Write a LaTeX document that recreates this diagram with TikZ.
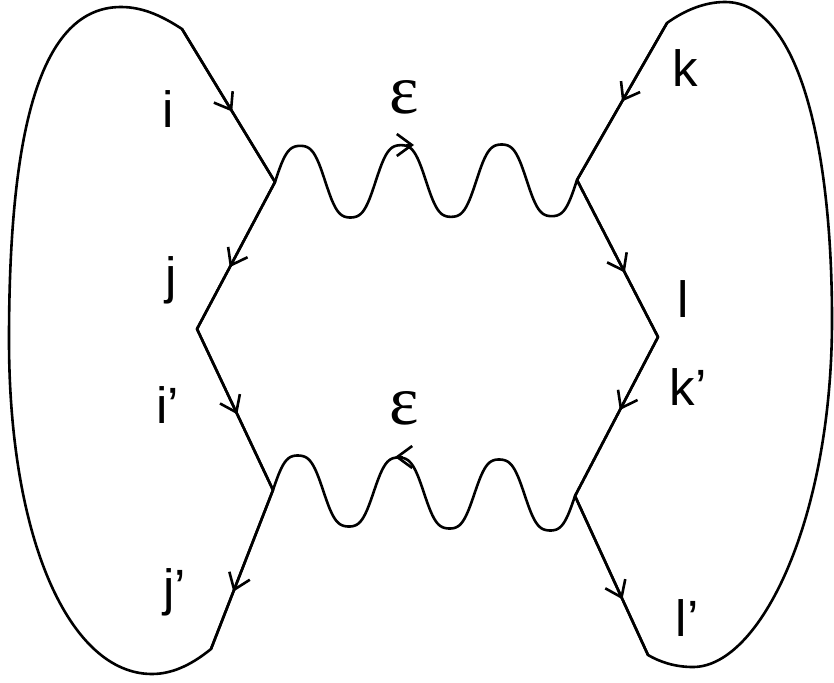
\documentclass[tikz,border=0pt]{standalone}
\usepackage{fontspec}
\setmainfont{Liberation Sans}
\newfontfamily\epsfont{Liberation Serif}
\usetikzlibrary{arrows.meta,decorations.markings,calc}
\begin{document}
\begin{tikzpicture}[x=1pt,y=-1pt,
  line width=2.6pt,
  barb/.tip={Straight Barb[length=15pt,width=22pt]},
  fermion/.style={postaction={decorate},decoration={markings,mark=at position #1 with {\arrow{barb}}}},
  photon/.style={to path={let \p1=(\tikztostart), \p2=(\tikztotarget) in
     plot[variable=\t, domain=0:1, samples=181, smooth]
     ({\x1+(\x2-\x1)*\t},{\y1+(\y2-\y1)*\t+#1*(sin(1080*\t)+0.08*sin(3240*\t))/0.92})}},
  lbl/.style={font=\fontsize{51}{60}\selectfont, anchor=base, inner sep=0pt},
  eps/.style={font=\epsfont\fontsize{70}{80}\selectfont, inner sep=0pt}]
\useasboundingbox (0,0) rectangle (834,682);
\coordinate (LT) at (182,29);
\coordinate (A) at (275,182);
\coordinate (LM) at (197,329);
\coordinate (C) at (273,490);
\coordinate (LB) at (211,649);
\coordinate (RT) at (667,23);
\coordinate (B) at (577,180);
\coordinate (RM) at (658,337);
\coordinate (D) at (575,496);
\coordinate (RB) at (648,655);
% outlines
\draw (LB) -- (C) -- (LM) -- (A) -- (LT) .. controls (165,18) and (145,7) .. (121,7) .. controls (40,7) and (9,130) .. (9,340) .. controls (9,540) and (70,674) .. (152,674) .. controls (175,674) and (195,662) .. (LB) -- cycle;
\draw (RB) -- (D) -- (RM) -- (B) -- (RT) .. controls (685,10) and (705,2) .. (725,2) .. controls (800,2) and (832,150) .. (832,320) .. controls (832,520) and (760,667) .. (693,667) .. controls (675,667) and (660,662) .. (RB) -- cycle;
% fermion arrows
\draw[fermion=0.54] (LT) -- (A);
\draw[fermion=0.58] (A) -- (LM);
\draw[fermion=0.53] (LM) -- (C);
\draw[fermion=0.64] (C) -- (LB);
\draw[fermion=0.5] (RT) -- (B);
\draw[fermion=0.59] (B) -- (RM);
\draw[fermion=0.46] (RM) -- (D);
\draw[fermion=0.65] (D) -- (RB);
% photons
\draw (A) to[photon=36pt] (B);
\draw (C) to[photon=35pt] (D);
\coordinate (w1a) at (406,145);
\coordinate (w1b) at (414,145);
\draw[-{barb}] (w1a) -- (w1b);
\coordinate (w2a) at (403,457);
\coordinate (w2b) at (395,457);
\draw[-{barb}] (w2a) -- (w2b);
% labels
\node[lbl] (li) at (168,127) {i};
\node[lbl] (lj) at (171,293) {j};
\node[lbl] (li2) at (168,423) {i’};
\node[lbl] (lj2) at (175,605) {j’};
\node[lbl] (lk) at (685,87) {k};
\node[lbl] (ll) at (683,317) {l};
\node[lbl] (lk2) at (688,405) {k’};
\node[lbl] (ll2) at (687,636) {l’};
\node[eps] (e1) at (404,97) {ε};
\node[eps] (e2) at (404,408) {ε};
\end{tikzpicture}
\end{document}
